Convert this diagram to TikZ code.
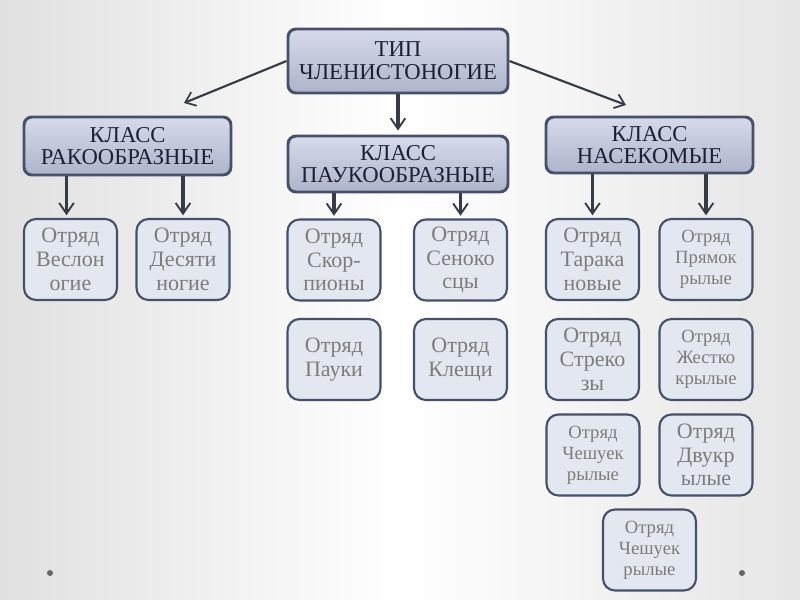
\documentclass[tikz,border=0pt]{standalone}
\usepackage{fontspec}
\setmainfont{Liberation Serif}
\usetikzlibrary{arrows.meta}
\definecolor{bord}{HTML}{46506A}
\definecolor{ctext}{HTML}{1C2036}
\definecolor{ltext}{HTML}{7C7C7C}
\definecolor{lfill}{HTML}{E3E7EF}
\definecolor{ctop}{HTML}{D6DAEA}
\definecolor{cbot}{HTML}{AEB4CA}
\definecolor{arrc}{HTML}{363B48}
\tikzset{
  classbox/.style={draw=bord, line width=2.2pt, rounded corners=6pt,
    top color=ctop, bottom color=cbot, align=center, text=ctext,
    font=\fontsize{17}{17}\selectfont, inner sep=0pt},
  leafbox/.style={draw=bord, line width=1.6pt, rounded corners=9pt,
    fill=lfill, align=center, text=ltext,
    minimum width=69.75pt, minimum height=60.75pt, inner sep=0pt,
    font=\fontsize{16.5}{17.8}\selectfont},
  smalltxt/.style={font=\fontsize{14}{15.8}\selectfont},
  arr/.style={draw=arrc, line width=2.4pt,
    -{Straight Barb[length=8pt,width=11pt,line width=1.4pt]}},
  darr/.style={draw=arrc, line width=1.6pt,
    -{Straight Barb[length=7pt,width=11pt,line width=1.3pt]}},
  dotmark/.style={fill=black!60, draw=none}
}
\begin{document}
\begin{tikzpicture}[x=0.75pt,y=-0.75pt]
\useasboundingbox (0,0) rectangle (800,600);
\shade[left color=black!12, right color=black!10, middle color=white] (0,0) rectangle (800,600);
\fill[dotmark] (50,573) circle (3);
\fill[dotmark] (742,573) circle (3);

\node[classbox, minimum width=165pt, minimum height=48pt] (top) at (398,61) {ТИП\\ЧЛЕНИСТОНОГИЕ};
\node[classbox, minimum width=155.25pt, minimum height=43.5pt] (cl1) at (127.5,146) {КЛАСС\\РАКООБРАЗНЫЕ};
\node[classbox, minimum width=165pt, minimum height=42pt] (cl2) at (398,164) {КЛАСС\\ПАУКООБРАЗНЫЕ};
\node[classbox, minimum width=155.25pt, minimum height=42pt] (cl3) at (649.5,145) {КЛАСС\\НАСЕКОМЫЕ};

\node[leafbox] (l1) at (70.5,259.5) {Отряд\\Веслон\\огие};
\node[leafbox] (l2) at (183,259.5) {Отряд\\Десяти\\ногие};
\node[leafbox] (l3) at (334,260) {Отряд\\Скор-\\пионы};
\node[leafbox] (l4) at (460.5,260) {Отряд\\Сеноко\\сцы};
\node[leafbox] (l5) at (592.5,259.5) {Отряд\\Тарака\\новые};
\node[leafbox, smalltxt] (l6) at (706,259.5) {Отряд\\Прямок\\рылые};

\node[leafbox] (l7) at (334,359.5) {Отряд\\Пауки};
\node[leafbox] (l8) at (460.5,359.5) {Отряд\\Клещи};
\node[leafbox] (l9) at (592.5,359.5) {Отряд\\Стреко\\зы};
\node[leafbox, smalltxt] (l10) at (706,359.5) {Отряд\\Жестко\\крылые};

\node[leafbox, smalltxt] (l11) at (593,455) {Отряд\\Чешуек\\рылые};
\node[leafbox] (l12) at (706,455) {Отряд\\Двукр\\ылые};

\node[leafbox, smalltxt] (l13) at (649.5,550) {Отряд\\Чешуек\\рылые};

\coordinate (e1) at (184,103);
\coordinate (e3) at (626,105);
\draw[darr] (top.west) -- (e1);
\draw[darr] (top.east) -- (e3);
\draw[arr, shorten >=3pt] (top.south) -- (cl2.north);

\draw[arr, shorten >=2pt] (cl1.south -| l1.north) ++(-4,0) -- ([xshift=-3pt]l1.north);
\draw[arr, shorten >=2pt] (cl1.south -| l2.north) -- (l2.north);
\draw[arr, shorten >=2pt] (cl2.south -| l3.north) -- (l3.north);
\draw[arr, shorten >=2pt] (cl2.south -| l4.north) -- (l4.north);
\draw[arr, shorten >=2pt] (cl3.south -| l5.north) -- (l5.north);
\draw[arr, shorten >=2pt] (cl3.south -| l6.north) -- (l6.north);
\end{tikzpicture}
\end{document}
